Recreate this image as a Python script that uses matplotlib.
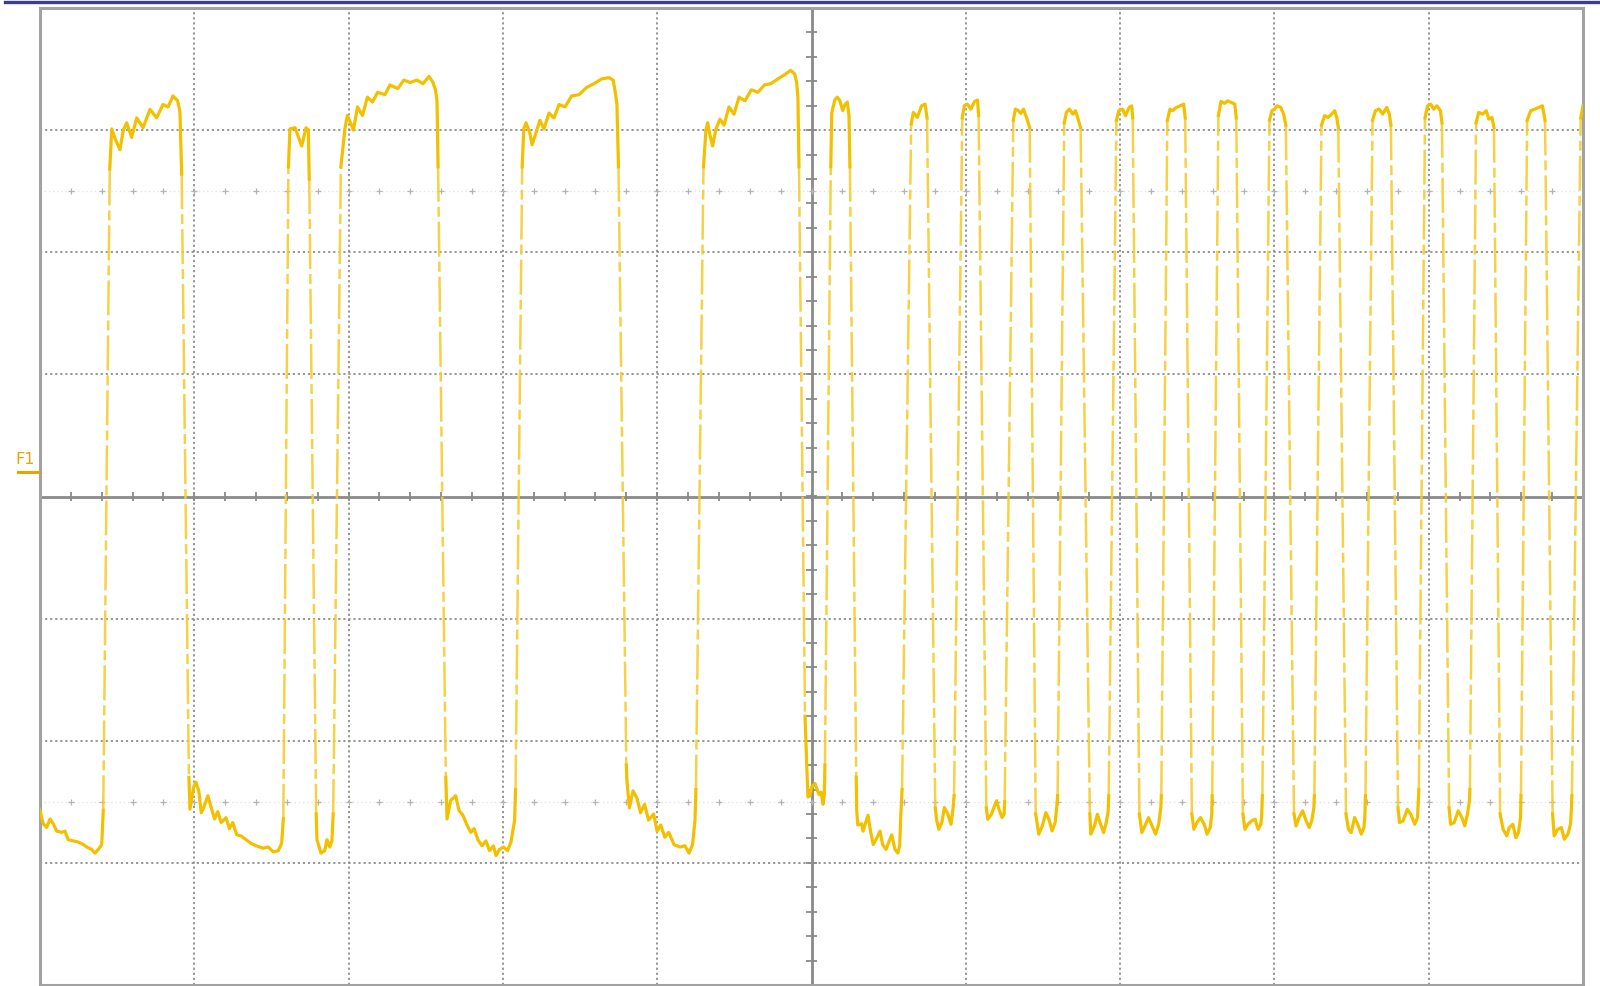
import numpy as np
import matplotlib.pyplot as plt
from matplotlib.lines import Line2D

# Scope capture of channel F1, in screen divisions (10 x 8 graticule, centre = 0,0)

# slow section: long low plateaus with decaying ringing
slow_lows = [
    [[0.000, -2.57], [0.021, -2.68], [0.043, -2.71], [0.065, -2.64], [0.086, -2.68], [0.108, -2.74],
     [0.141, -2.75], [0.162, -2.74], [0.183, -2.81], [0.216, -2.82], [0.248, -2.83], [0.281, -2.85],
     [0.303, -2.87], [0.335, -2.89], [0.356, -2.92], [0.378, -2.89], [0.400, -2.85], [0.410, -2.57]],
    [[0.965, -2.30], [0.972, -2.56], [0.996, -2.38], [1.011, -2.34], [1.029, -2.41], [1.045, -2.59],
     [1.060, -2.55], [1.088, -2.45], [1.110, -2.55], [1.131, -2.64], [1.152, -2.58], [1.174, -2.67],
     [1.206, -2.63], [1.228, -2.72], [1.249, -2.67], [1.275, -2.77], [1.303, -2.78], [1.335, -2.81],
     [1.368, -2.84], [1.401, -2.86], [1.447, -2.88], [1.479, -2.87], [1.512, -2.91], [1.544, -2.90],
     [1.566, -2.84], [1.577, -2.64]],
    [[1.790, -2.60], [1.795, -2.81], [1.821, -2.92], [1.845, -2.90], [1.860, -2.81], [1.878, -2.87],
     [1.892, -2.82], [1.900, -2.60]],
    [[2.630, -2.30], [2.638, -2.64], [2.661, -2.49], [2.694, -2.45], [2.715, -2.57], [2.741, -2.61],
     [2.767, -2.69], [2.792, -2.75], [2.813, -2.72], [2.838, -2.81], [2.865, -2.86], [2.890, -2.82],
     [2.913, -2.90], [2.939, -2.86], [2.955, -2.94], [2.978, -2.89], [3.004, -2.87], [3.030, -2.90],
     [3.052, -2.83], [3.076, -2.65], [3.082, -2.40]],
    [[3.800, -2.20], [3.804, -2.33], [3.820, -2.55], [3.843, -2.41], [3.869, -2.47], [3.892, -2.59],
     [3.918, -2.52], [3.944, -2.65], [3.977, -2.60], [3.999, -2.74], [4.023, -2.69], [4.049, -2.79],
     [4.075, -2.75], [4.109, -2.85], [4.148, -2.87], [4.180, -2.86], [4.206, -2.92], [4.229, -2.85],
     [4.245, -2.65], [4.251, -2.40]],
    [[4.958, -1.80], [4.969, -2.19], [4.977, -2.46], [4.990, -2.45], [5.001, -2.38], [5.023, -2.35],
     [5.036, -2.40], [5.049, -2.44], [5.062, -2.42], [5.075, -2.52], [5.083, -2.44], [5.087, -2.20]],
    [[5.290, -2.30], [5.293, -2.57], [5.300, -2.69], [5.325, -2.68], [5.334, -2.74], [5.366, -2.61],
     [5.384, -2.75], [5.400, -2.85], [5.422, -2.80], [5.444, -2.74], [5.461, -2.85], [5.483, -2.89],
     [5.504, -2.82], [5.520, -2.77], [5.541, -2.89], [5.560, -2.92], [5.572, -2.85], [5.578, -2.63],
     [5.587, -2.40]],
]

# slow section: high plateaus with ramp and ripple
slow_highs = [
    [[0.452, 2.68], [0.465, 3.01], [0.490, 2.92], [0.518, 2.84], [0.540, 3.00], [0.562, 3.06],
     [0.594, 2.94], [0.627, 3.10], [0.668, 3.02], [0.713, 3.17], [0.756, 3.10], [0.797, 3.21],
     [0.830, 3.19], [0.862, 3.28], [0.892, 3.24], [0.907, 3.15], [0.918, 2.64]],
    [[1.610, 2.70], [1.620, 3.01], [1.653, 3.02], [1.696, 2.87], [1.724, 3.02], [1.739, 3.00],
     [1.745, 2.60]],
    [[1.950, 2.70], [1.977, 3.02], [1.992, 3.12], [2.016, 3.05], [2.031, 3.00], [2.058, 3.19],
     [2.090, 3.12], [2.122, 3.27], [2.155, 3.23], [2.188, 3.31], [2.236, 3.29], [2.268, 3.37],
     [2.319, 3.34], [2.358, 3.41], [2.398, 3.39], [2.443, 3.41], [2.482, 3.38], [2.521, 3.44],
     [2.547, 3.39], [2.563, 3.33], [2.573, 3.24], [2.580, 2.70]],
    [[3.125, 2.70], [3.135, 3.01], [3.150, 3.06], [3.174, 2.98], [3.189, 2.88], [3.215, 2.98],
     [3.240, 3.08], [3.266, 3.01], [3.299, 3.14], [3.331, 3.10], [3.364, 3.21], [3.403, 3.19],
     [3.445, 3.28], [3.493, 3.29], [3.543, 3.35], [3.590, 3.38], [3.641, 3.42], [3.688, 3.43],
     [3.714, 3.41], [3.726, 3.33], [3.739, 3.21], [3.749, 2.70]],
    [[4.300, 2.70], [4.316, 3.00], [4.327, 3.06], [4.342, 2.96], [4.359, 2.87], [4.381, 3.01],
     [4.407, 3.09], [4.433, 3.04], [4.465, 3.19], [4.498, 3.13], [4.530, 3.27], [4.569, 3.24],
     [4.610, 3.33], [4.653, 3.31], [4.695, 3.37], [4.735, 3.38], [4.783, 3.42], [4.833, 3.46],
     [4.865, 3.49], [4.891, 3.46], [4.904, 3.39], [4.912, 3.27], [4.919, 2.70]],
    [[5.125, 2.70], [5.131, 3.14], [5.152, 3.25], [5.167, 3.27], [5.184, 3.24], [5.202, 3.16],
     [5.217, 3.21], [5.232, 3.23], [5.243, 3.12], [5.249, 2.70]],
]

# fast section: short pulses
fast_highs = [
    [[5.646, 3.05], [5.660, 3.145], [5.686, 3.104], [5.713, 3.199], [5.736, 3.213], [5.749, 3.10]],
    [[5.977, 3.10], [5.990, 3.199], [6.010, 3.213], [6.033, 3.172], [6.057, 3.235], [6.076, 3.246], [6.083, 3.12]],
    [[6.308, 3.08], [6.321, 3.172], [6.341, 3.159], [6.357, 3.137], [6.374, 3.172], [6.397, 3.090], [6.414, 3.02]],
    [[6.638, 3.06], [6.652, 3.145], [6.671, 3.172], [6.695, 3.131], [6.711, 3.159], [6.728, 3.090], [6.744, 3.02]],
    [[6.976, 3.08], [6.992, 3.159], [7.016, 3.172], [7.035, 3.118], [7.058, 3.186], [7.075, 3.199], [7.082, 3.10]],
    [[7.306, 3.08], [7.323, 3.172], [7.340, 3.159], [7.366, 3.186], [7.389, 3.199], [7.412, 3.213], [7.422, 3.10]],
    [[7.637, 3.12], [7.654, 3.235], [7.677, 3.219], [7.697, 3.240], [7.720, 3.227], [7.743, 3.213], [7.753, 3.10]],
    [[7.968, 3.08], [7.984, 3.159], [8.001, 3.172], [8.017, 3.199], [8.041, 3.186], [8.060, 3.131], [8.074, 3.04]],
    [[8.305, 3.04], [8.325, 3.118], [8.348, 3.104], [8.371, 3.131], [8.391, 3.159], [8.404, 3.104], [8.414, 3.02]],
    [[8.636, 3.08], [8.655, 3.159], [8.679, 3.172], [8.702, 3.131], [8.728, 3.186], [8.745, 3.131], [8.755, 3.04]],
    [[8.976, 3.10], [8.993, 3.199], [9.013, 3.213], [9.033, 3.172], [9.053, 3.199], [9.076, 3.159], [9.086, 3.06]],
    [[9.307, 3.06], [9.324, 3.145], [9.350, 3.131], [9.373, 3.159], [9.390, 3.090], [9.410, 3.104], [9.423, 3.02]],
    [[9.638, 3.08], [9.661, 3.159], [9.687, 3.172], [9.714, 3.186], [9.737, 3.199], [9.754, 3.08]],
    [[9.985, 3.10], [10.000, 3.199]],
]

# fast section: short lows
fast_lows = [
    [[5.802, -2.55], [5.812, -2.656], [5.825, -2.725], [5.845, -2.670], [5.861, -2.547], [5.884, -2.602],
     [5.904, -2.684], [5.918, -2.547], [5.924, -2.45]],
    [[6.133, -2.55], [6.142, -2.643], [6.166, -2.602], [6.182, -2.547], [6.199, -2.492], [6.215, -2.561],
     [6.235, -2.629], [6.248, -2.602], [6.252, -2.50]],
    [[6.453, -2.60], [6.473, -2.765], [6.496, -2.697], [6.519, -2.588], [6.539, -2.643], [6.559, -2.738],
     [6.579, -2.670], [6.589, -2.547], [6.595, -2.45]],
    [[6.804, -2.60], [6.810, -2.765], [6.834, -2.697], [6.853, -2.602], [6.870, -2.670], [6.893, -2.752],
     [6.910, -2.670], [6.923, -2.574], [6.926, -2.45]],
    [[7.125, -2.60], [7.141, -2.752], [7.161, -2.697], [7.184, -2.629], [7.207, -2.697], [7.230, -2.765],
     [7.250, -2.684], [7.264, -2.547], [7.267, -2.45]],
    [[7.465, -2.60], [7.478, -2.725], [7.498, -2.670], [7.521, -2.629], [7.545, -2.684], [7.564, -2.765],
     [7.584, -2.711], [7.594, -2.602], [7.597, -2.45]],
    [[7.796, -2.60], [7.809, -2.725], [7.829, -2.684], [7.852, -2.656], [7.875, -2.643], [7.895, -2.725],
     [7.912, -2.684], [7.918, -2.602], [7.922, -2.45]],
    [[8.127, -2.60], [8.140, -2.697], [8.160, -2.629], [8.183, -2.574], [8.206, -2.656], [8.226, -2.711],
     [8.242, -2.656], [8.256, -2.547], [8.259, -2.45]],
    [[8.464, -2.60], [8.480, -2.725], [8.497, -2.752], [8.520, -2.629], [8.540, -2.684], [8.563, -2.765],
     [8.580, -2.711], [8.586, -2.629], [8.590, -2.45]],
    [[8.801, -2.55], [8.811, -2.670], [8.834, -2.656], [8.861, -2.561], [8.884, -2.602], [8.910, -2.684],
     [8.927, -2.629], [8.933, -2.492], [8.936, -2.40]],
    [[9.132, -2.55], [9.142, -2.684], [9.165, -2.670], [9.191, -2.574], [9.215, -2.629], [9.234, -2.697],
     [9.251, -2.602], [9.264, -2.492], [9.267, -2.40]],
    [[9.463, -2.60], [9.482, -2.725], [9.506, -2.779], [9.522, -2.711], [9.545, -2.684], [9.565, -2.793],
     [9.582, -2.752], [9.595, -2.629], [9.598, -2.45]],
    [[9.803, -2.60], [9.813, -2.779], [9.836, -2.725], [9.860, -2.711], [9.879, -2.806], [9.902, -2.765],
     [9.919, -2.684], [9.925, -2.547], [9.928, -2.45]],
]

h_divs = 10
v_divs = 8
minor_per_div = 5
channel_label = "F1"
ground_level = 0.2          # divisions above centre

trace_color = "#f3c000"
edge_color = "#f5cc33"
grid_color = "#8e8e8e"

fig = plt.figure(figsize=(16, 9.86), dpi=100)
ax = fig.add_axes([40 / 1600, 1 / 986, 1543 / 1600, 977 / 986])
ax.set_xlim(0, h_divs)
ax.set_ylim(-v_divs / 2, v_divs / 2)
ax.set_xticks([])
ax.set_yticks([])
for sp in ax.spines.values():
    sp.set_color("#a2a2a2")
    sp.set_linewidth(2.2)

# dotted graticule, solid centre axes
for x in range(1, h_divs):
    if x == h_divs // 2:
        continue
    ax.axvline(x, color=grid_color, lw=1.3, ls=(0, (1.2, 1.6)), zorder=1)
for y in range(-v_divs // 2 + 1, v_divs // 2):
    if y == 0:
        continue
    ax.axhline(y, color=grid_color, lw=1.3, ls=(0, (1.2, 1.6)), zorder=1)
ax.axvline(h_divs / 2, color="#8a8a8a", lw=2.0, zorder=1)
ax.axhline(0, color="#8a8a8a", lw=2.0, zorder=1)

# minor ticks on the centre axes
hticks = np.arange(0, h_divs + 1e-9, 1 / minor_per_div)
vticks = np.arange(-v_divs / 2, v_divs / 2 + 1e-9, 1 / minor_per_div)
ax.vlines(hticks, -0.035, 0.035, color="#8a8a8a", lw=1.3, zorder=1)
ax.hlines(vticks, h_divs / 2 - 0.033, h_divs / 2 + 0.033, color="#8a8a8a", lw=1.3, zorder=1)

# rise-time marker rows
for y in (2.5, -2.5):
    ax.axhline(y, color="#e4e4e4", lw=1.0, ls=(0, (1, 2)), zorder=1)
    ax.plot(hticks[1:-1], np.full(len(hticks) - 2, y), "+", ms=5, mew=0.9,
            color="#b4b4b4", zorder=1)

# waveform: plateaus solid, fast edges faint and broken
segs = sorted(slow_lows + slow_highs + fast_lows + fast_highs, key=lambda s: s[0][0])
for i, seg in enumerate(segs):
    pts = np.array(seg)
    ax.plot(pts[:, 0], pts[:, 1], color=trace_color, lw=2.3, solid_joinstyle="round",
            zorder=3, clip_on=True)
    if i + 1 < len(segs):
        a = seg[-1]
        b = segs[i + 1][0]
        ax.plot([a[0], b[0]], [a[1], b[1]], color=edge_color, lw=1.8,
                ls=(0, (14, 2, 4, 2)), alpha=0.9, zorder=2)

# channel label and ground marker left of the graticule
fig.text(25 / 1600, 1 - 460 / 986, channel_label, color="#e8a400", fontsize=11.5,
         ha="center", va="center")
y_gnd = (1 + (ground_level + v_divs / 2) / v_divs * 977) / 986
fig.add_artist(Line2D([18 / 1600, 39 / 1600], [y_gnd, y_gnd], transform=fig.transFigure,
                      color="#e8a400", lw=2.2))

# title bar strip across the top
fig.add_artist(Line2D([5 / 1600, 1], [1 - 1.5 / 986, 1 - 1.5 / 986], transform=fig.transFigure,
                      color="#3d3d88", lw=2.4))

fig.savefig("out.png", dpi=100)
